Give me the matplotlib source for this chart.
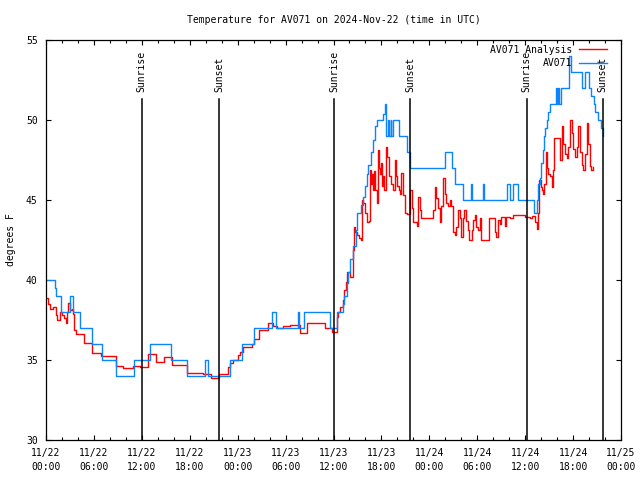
import matplotlib
matplotlib.use("Agg")
import matplotlib.pyplot as plt
from matplotlib.ticker import MultipleLocator

# ---- data (hours since 2024-11-22 00:00 UTC, degrees F) ----
obs_hours = [0.0, 1.1, 1.3, 1.9, 3.0, 3.4, 4.2, 5.8, 7.0, 8.8, 11.0, 13.0, 15.7, 17.6,
             19.95, 20.3, 23.1, 24.6, 26.1, 28.3, 28.75, 31.5, 31.7, 32.35, 35.55, 36.4,
             37.15, 37.3, 37.65, 37.8, 38.05, 38.5, 38.8, 39.0, 39.5, 39.7, 39.95, 40.15,
             40.35, 40.65, 41.0, 41.2, 41.4, 42.2, 42.4, 42.55, 42.85, 42.95, 43.15, 43.25,
             43.5, 44.2, 45.2, 45.55, 49.95, 50.85, 51.2, 52.2, 53.2, 53.4, 54.7, 54.9,
             57.75, 58.05, 58.45, 59.15, 61.05, 61.5, 61.6, 61.8, 61.95, 62.2, 62.35, 62.5,
             62.7, 62.9, 63.1, 63.9, 64.0, 64.15, 64.25, 64.45, 65.5, 65.8, 67.15, 67.55,
             68.05, 68.3, 68.6, 68.8, 69.1, 69.5, 69.7, 69.8]
obs_temp = [40.0, 39.5, 39.0, 38.0, 39.0, 38.0, 37.0, 36.0, 35.0, 34.0, 35.0, 36.0, 35.0, 34.0,
            35.0, 34.0, 35.0, 36.0, 37.0, 38.0, 37.0, 38.0, 37.0, 38.0, 37.0, 38.0,
            38.5, 39.0, 39.8, 40.5, 41.3, 42.1, 43.1, 44.2, 44.7, 45.2, 45.9, 46.6,
            47.2, 48.0, 48.75, 49.6, 50.0, 50.4, 51.0, 49.0, 50.0, 49.0, 50.0, 49.0,
            50.0, 49.0, 48.0, 47.0, 48.0, 47.0, 46.0, 45.0, 46.0, 45.0, 46.0, 45.0,
            46.0, 45.0, 46.0, 45.0, 44.2, 45.0, 46.0, 46.4, 47.3, 48.1, 49.0, 49.5,
            50.0, 50.5, 51.0, 52.0, 51.0, 52.0, 51.0, 52.0, 54.0, 53.0, 52.0, 53.0,
            52.0, 51.5, 51.0, 50.5, 50.0, 49.5, 49.0, 49.0]

ana_hours = [0.0, 0.3, 0.5, 0.9, 1.2, 1.4, 1.75, 2.0, 2.2, 2.45, 2.6, 2.8, 3.05, 3.2, 3.4,
             3.55, 3.76, 4.8, 5.72, 6.89, 8.77, 9.68, 10.85, 11.77, 12.81, 13.77, 14.78,
             15.74, 17.6, 19.7, 20.6, 21.7, 22.75, 23.04, 23.45, 24.08, 24.3, 24.7, 25.75,
             26.05, 26.7, 27.8, 28.46, 28.9, 29.7, 30.55, 31.8, 32.7, 34.9, 35.77, 36.45,
             36.6, 36.8, 37.2, 37.3, 37.57, 37.73, 38.1, 38.45, 38.57, 38.75, 38.95, 39.2,
             39.4, 39.55, 39.75, 39.95, 40.15, 40.45, 40.6, 40.75, 40.85, 41.0, 41.1, 41.2,
             41.4, 41.6, 41.75, 41.85, 42.0, 42.1, 42.2, 42.35, 42.6, 42.75, 42.9, 43.2,
             43.5, 43.65, 43.8, 43.95, 44.2, 44.33, 44.5, 44.75, 44.95, 45.16, 45.58, 45.8,
             46.0, 46.4, 46.6, 46.8, 47.0, 48.45, 48.66, 48.87, 49.08, 49.29, 49.5, 49.7,
             49.9, 50.1, 50.33, 50.54, 50.75, 50.96, 51.17, 51.38, 51.6, 51.8, 52.0, 52.2,
             52.4, 52.6, 52.8, 53.0, 53.3, 53.5, 53.7, 53.9, 54.1, 54.3, 54.5, 55.5, 56.2,
             56.4, 56.6, 56.8, 57.0, 57.45, 57.65, 58.1, 58.5, 60.0, 60.6, 60.8, 61.23,
             61.44, 61.56, 61.77, 61.94, 62.1, 62.27, 62.4, 62.6, 62.77, 62.9, 63.1, 63.3,
             63.52, 63.65, 64.36, 64.57, 64.78, 64.98, 65.19, 65.4, 65.61, 65.82, 66.03,
             66.24, 66.45, 66.65, 66.86, 67.07, 67.28, 67.49, 67.7, 67.9, 68.1, 68.3, 68.5]
ana_temp = [38.85, 38.5, 38.2, 38.3, 37.8, 37.5, 38.0, 37.8, 37.6, 37.3, 38.0, 38.55, 38.1, 38.2, 37.9,
            36.9, 36.6, 36.05, 35.45, 35.25, 34.6, 34.5, 34.6, 34.55, 35.35, 34.9, 35.2,
            34.7, 34.2, 34.1, 33.85, 34.1, 34.55, 34.8, 35.0, 35.3, 35.5, 35.8, 36.0,
            36.3, 36.9, 37.3, 37.1, 37.0, 37.1, 37.2, 36.7, 37.3, 37.0, 36.75, 37.7,
            38.0, 38.3, 38.75, 39.4, 39.9, 40.5, 40.2, 41.9, 43.3, 43.0, 42.8, 42.6,
            42.5, 45.0, 44.8, 44.2, 43.6, 43.7, 46.9, 46.0, 46.6, 45.6, 46.8, 45.6,
            44.8, 48.1, 47.0, 46.6, 47.3, 45.9, 46.5, 45.6, 48.3, 47.7, 46.5, 46.0,
            45.6, 47.5, 46.5, 45.9, 45.6, 45.4, 46.7, 45.3, 44.2, 44.1, 45.6, 44.5,
            43.6, 43.4, 45.2, 44.4, 43.85, 44.4, 45.8, 45.1, 44.5, 43.6, 44.6, 46.35,
            45.4, 44.8, 44.6, 45.0, 44.6, 43.0, 42.8, 43.3, 44.4, 43.9, 42.7, 43.9,
            44.4, 43.7, 43.1, 42.5, 43.1, 43.75, 44.05, 43.3, 43.1, 43.9, 42.5, 43.85, 43.0,
            42.7, 43.75, 43.5, 43.95, 43.4, 43.95, 43.85, 44.05, 43.95, 43.85, 44.0, 43.6,
            43.2, 44.2, 46.25, 45.8, 45.6, 45.4, 46.0, 48.0, 47.0, 46.6, 46.5, 45.8,
            46.9, 48.9, 47.5, 49.6, 48.5, 47.9, 47.6, 48.3, 50.0, 49.2, 48.2,
            47.7, 48.3, 49.6, 48.0, 47.2, 46.9, 47.9, 49.8, 48.5, 47.1, 46.9, 47.05]

sun_hours = [12.0, 21.7, 36.1, 45.6, 60.2, 69.7]
sun_labels = ["Sunrise", "Sunset", "Sunrise", "Sunset", "Sunrise", "Sunset"]

xtick_hours = list(range(0, 73, 6))
xtick_labels = ["11/22\n00:00", "11/22\n06:00", "11/22\n12:00", "11/22\n18:00",
                "11/23\n00:00", "11/23\n06:00", "11/23\n12:00", "11/23\n18:00",
                "11/24\n00:00", "11/24\n06:00", "11/24\n12:00", "11/24\n18:00",
                "11/25\n00:00"]
yticks = [30, 35, 40, 45, 50, 55]

FONT = "DejaVu Sans Mono"
FS = 7

fig = plt.figure(figsize=(6.4, 4.8), dpi=100)
ax = fig.add_axes([46 / 640, 1 - 440 / 480, 575 / 640, 400 / 480])

ax.step(ana_hours, ana_temp, where="post", color="#ff0000", lw=1.0, label="AV071 Analysis")
ax.step(obs_hours, obs_temp, where="post", color="#0a84ff", lw=1.0, label="AV071")

for h, lab in zip(sun_hours, sun_labels):
    ax.plot([h, h], [30, 51.3], color="black", lw=1.1)
    ax.text(h, 51.75, lab, rotation=90, ha="center", va="bottom",
            fontsize=FS, family=FONT)

ax.set_xlim(0, 72)
ax.set_ylim(30, 55)
ax.set_xticks(xtick_hours)
ax.set_xticklabels(xtick_labels, fontsize=FS, family=FONT, linespacing=1.5)
ax.xaxis.set_minor_locator(MultipleLocator(2))
ax.set_yticks(yticks)
ax.set_yticklabels([str(v) for v in yticks], fontsize=FS, family=FONT)
ax.tick_params(axis="both", which="major", direction="in", length=3.5, width=0.8,
               top=True, right=True)
ax.tick_params(axis="x", which="major", pad=6)
ax.tick_params(axis="x", which="minor", direction="in", length=2, width=0.8,
               top=True, bottom=True)
ax.tick_params(axis="y", which="major", pad=6)
for s in ax.spines.values():
    s.set_linewidth(0.9)

ax.set_ylabel("degrees F", fontsize=FS, family=FONT, labelpad=7)
ax.set_title("Temperature for AV071 on 2024-Nov-22 (time in UTC)",
             fontsize=FS, family=FONT, pad=12)

leg = ax.legend(loc="upper right", bbox_to_anchor=(1 - 9 / 575, 1), frameon=False,
                markerfirst=False, prop={"family": FONT, "size": FS},
                handlelength=2.9, handletextpad=0.7, labelspacing=0.35,
                borderaxespad=0.3, borderpad=0.2)

fig.savefig("out.png", dpi=100)
